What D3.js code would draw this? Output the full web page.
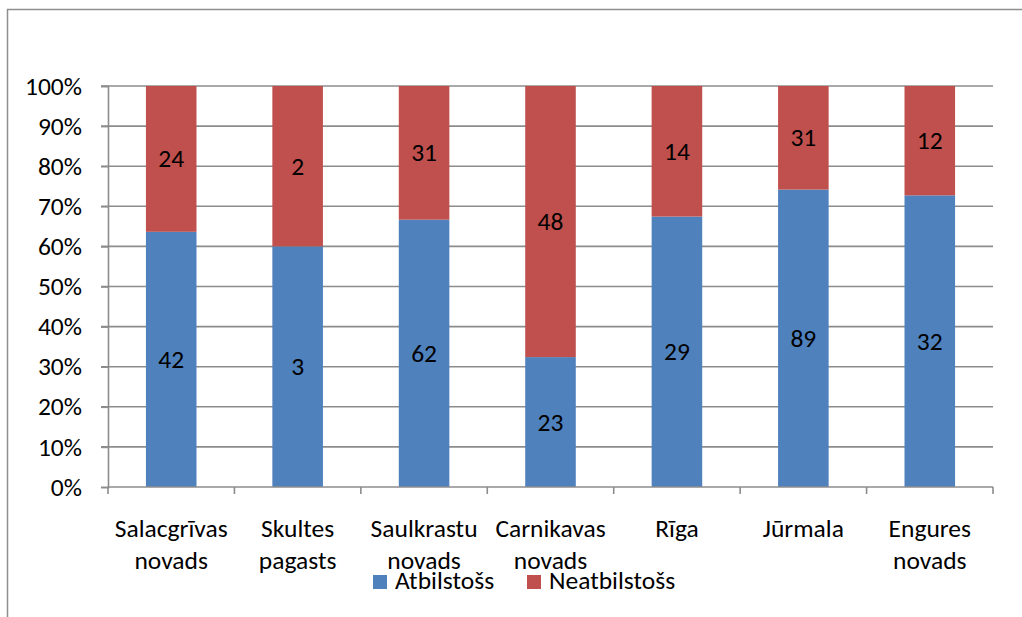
<!DOCTYPE html>
<html>
<head>
<meta charset="utf-8">
<script src="https://cdn.jsdelivr.net/npm/d3@7"></script>
<style>
  html, body { margin: 0; padding: 0; background: #fff; }
  svg { display: block; }
  text { font-family: Carlito, Lato, "Open Sans", sans-serif; fill: #000; }
</style>
</head>
<body>
<svg id="chart" width="1022" height="617"></svg>
<script>
const categories = [
  ["Salacgrīvas", "novads"],
  ["Skultes", "pagasts"],
  ["Saulkrastu", "novads"],
  ["Carnikavas", "novads"],
  ["Rīga"],
  ["Jūrmala"],
  ["Engures", "novads"]
];
const atbilstoss = [42, 3, 62, 23, 29, 89, 32];
const neatbilstoss = [24, 2, 31, 48, 14, 31, 12];
const seriesNames = ["Atbilstošs", "Neatbilstošs"];
const seriesColors = ["#4F81BD", "#C0504D"];
const yTicks = [0, 0.1, 0.2, 0.3, 0.4, 0.5, 0.6, 0.7, 0.8, 0.9, 1.0];

const svg = d3.select("#chart");
const fontSize = 25.5;
const gridColor = "#8c8c8c";

// outer frame (cropped by image edges)
svg.append("path")
  .attr("d", "M7.5,617 L7.5,9.5 L1022,9.5")
  .attr("fill", "none").attr("stroke", "#8e8e8e").attr("stroke-width", 1.5);

const plot = { left: 108, right: 993, top: 86, bottom: 487 };
const idx = categories.map((d, i) => i);

const x = d3.scaleBand().domain(idx).range([plot.left, plot.right])
  .paddingInner(0.6).paddingOuter(0.3);
const y = d3.scaleLinear().domain([0, 1]).range([plot.bottom, plot.top]);

// gridlines
svg.append("g").selectAll("line").data(yTicks.filter(t => t > 0)).join("line")
  .attr("x1", plot.left - 7).attr("x2", plot.right)
  .attr("y1", d => y(d)).attr("y2", d => y(d))
  .attr("stroke", gridColor).attr("stroke-width", 1.6);

// y axis
const yAxis = svg.append("g").attr("transform", `translate(${plot.left},0)`)
  .call(d3.axisLeft(y).tickValues(yTicks).tickFormat(d3.format(".0%")).tickSize(7).tickPadding(19));
yAxis.select(".domain").attr("stroke", gridColor).attr("stroke-width", 1.6);
yAxis.selectAll(".tick line").attr("stroke", gridColor).attr("stroke-width", 1.6);
yAxis.selectAll(".tick text").attr("font-size", fontSize).attr("font-family", null).attr("fill", "#000");

// stacked data
const stackData = idx.map(i => {
  const total = atbilstoss[i] + neatbilstoss[i];
  return { i, a: atbilstoss[i], n: neatbilstoss[i], total };
});

const segs = [];
stackData.forEach(d => {
  segs.push({ i: d.i, s: 0, v: d.a, y0: 0, y1: d.a / d.total });
  segs.push({ i: d.i, s: 1, v: d.n, y0: d.a / d.total, y1: 1 });
});

svg.append("g").selectAll("rect").data(segs).join("rect")
  .attr("x", d => x(d.i))
  .attr("width", x.bandwidth())
  .attr("y", d => y(d.y1))
  .attr("height", d => y(d.y0) - y(d.y1))
  .attr("fill", d => seriesColors[d.s]);

// data labels
svg.append("g").selectAll("text").data(segs).join("text")
  .attr("x", d => x(d.i) + x.bandwidth() / 2)
  .attr("y", d => (y(d.y0) + y(d.y1)) / 2)
  .attr("text-anchor", "middle")
  .attr("dominant-baseline", "central")
  .attr("font-size", fontSize)
  .text(d => d.v);

// x axis (ticks at category boundaries)
const xg = svg.append("g");
xg.append("line")
  .attr("x1", plot.left).attr("x2", plot.right)
  .attr("y1", plot.bottom).attr("y2", plot.bottom)
  .attr("stroke", gridColor).attr("stroke-width", 1.6);
const boundaries = d3.range(categories.length + 1).map(k => plot.left + k * (plot.right - plot.left) / categories.length);
xg.selectAll("line.tk").data(boundaries).join("line").attr("class", "tk")
  .attr("x1", d => d).attr("x2", d => d)
  .attr("y1", plot.bottom).attr("y2", plot.bottom + 7)
  .attr("stroke", gridColor).attr("stroke-width", 1.6);

// category labels
const lab = svg.append("g").selectAll("text").data(idx).join("text")
  .attr("x", i => x(i) + x.bandwidth() / 2)
  .attr("y", 537)
  .attr("text-anchor", "middle")
  .attr("font-size", fontSize);
lab.selectAll("tspan").data(i => categories[i].map(t => ({ t, x: x(i) + x.bandwidth() / 2 }))).join("tspan")
  .attr("x", d => d.x)
  .attr("dy", (d, k) => k === 0 ? 0 : 31.5)
  .text(d => d.t);

// legend
const legendItems = [
  { name: seriesNames[0], color: seriesColors[0], sx: 373, tx: 395 },
  { name: seriesNames[1], color: seriesColors[1], sx: 527, tx: 549 }
];
const lg = svg.append("g").selectAll("g").data(legendItems).join("g");
lg.append("rect").attr("x", d => d.sx).attr("y", 575).attr("width", 14).attr("height", 14).attr("fill", d => d.color);
lg.append("text").attr("x", d => d.tx).attr("y", 588.5).attr("font-size", fontSize).text(d => d.name);
</script>
</body>
</html>
